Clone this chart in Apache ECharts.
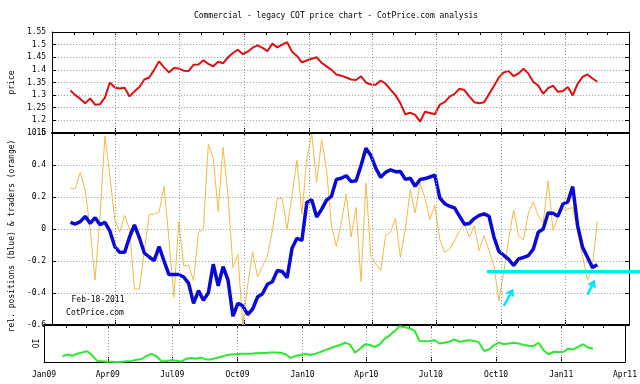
<!DOCTYPE html>
<html><head><meta charset="utf-8">
<script src="https://cdn.jsdelivr.net/npm/echarts@6/dist/echarts.min.js"></script>
<style>html,body{margin:0;padding:0;background:#fff}#c{width:640px;height:384px}</style>
</head><body><div id="c"></div>
<script>
// weekly COT report dates start here (one value per week)
const firstWeek = '2009-01-27';

const price = [1.318,1.300,1.285,1.268,1.287,1.262,1.264,1.290,1.350,1.330,
1.326,1.329,1.295,1.315,1.332,1.362,1.370,1.400,1.434,1.410,
1.390,1.407,1.405,1.397,1.396,1.420,1.421,1.438,1.424,1.414,
1.432,1.426,1.450,1.467,1.480,1.462,1.472,1.488,1.497,1.487,
1.474,1.504,1.489,1.500,1.510,1.472,1.455,1.430,1.437,1.444,
1.450,1.428,1.414,1.400,1.382,1.377,1.370,1.362,1.360,1.375,
1.350,1.342,1.341,1.358,1.345,1.322,1.300,1.268,1.224,1.230,
1.222,1.195,1.234,1.229,1.224,1.262,1.272,1.294,1.305,1.325,
1.320,1.295,1.272,1.268,1.272,1.304,1.336,1.370,1.390,1.395,
1.375,1.386,1.405,1.385,1.352,1.338,1.305,1.328,1.338,1.313,
1.316,1.332,1.299,1.345,1.372,1.382,1.366,1.353];

const positions = [0.042,0.031,0.046,0.079,0.035,0.071,0.027,0.042,-0.012,-0.110,
-0.146,-0.146,-0.050,0.025,-0.055,-0.150,-0.175,-0.198,-0.110,-0.200,
-0.285,-0.285,-0.284,-0.300,-0.340,-0.465,-0.385,-0.445,-0.400,-0.220,
-0.355,-0.235,-0.320,-0.545,-0.465,-0.480,-0.535,-0.500,-0.425,-0.405,
-0.345,-0.330,-0.260,-0.265,-0.305,-0.120,-0.058,-0.072,0.165,0.183,
0.075,0.123,0.180,0.204,0.310,0.317,0.333,0.296,0.302,0.395,
0.505,0.460,0.380,0.323,0.354,0.370,0.358,0.360,0.310,0.317,
0.267,0.310,0.315,0.325,0.337,0.195,0.158,0.142,0.132,0.080,
0.030,0.035,0.065,0.085,0.094,0.080,-0.050,-0.140,-0.165,-0.190,
-0.228,-0.187,-0.178,-0.166,-0.125,-0.020,0.000,0.100,0.098,0.080,
0.156,0.170,0.265,0.020,-0.115,-0.177,-0.240,-0.223];

const traders = [0.254,0.254,0.354,0.240,0.000,-0.320,0.080,0.580,0.330,0.060,
-0.020,0.085,0.000,-0.375,-0.375,-0.135,0.088,0.094,0.104,0.267,
-0.065,-0.427,0.046,-0.229,-0.229,-0.323,-0.020,0.000,0.530,0.440,
0.110,0.510,0.210,-0.240,-0.160,-0.600,-0.350,-0.142,-0.300,-0.233,
-0.170,-0.010,0.190,0.190,0.000,0.210,0.430,0.094,0.440,0.594,
0.290,0.560,0.375,0.020,-0.108,0.040,0.217,-0.050,0.135,-0.329,
0.288,-0.167,-0.219,-0.260,-0.042,-0.020,0.067,-0.177,0.000,0.246,
0.100,0.290,0.190,0.060,0.150,-0.065,-0.146,-0.125,-0.075,-0.010,
0.031,-0.052,0.020,-0.135,-0.042,-0.135,-0.230,-0.448,-0.270,-0.060,
0.120,-0.040,-0.070,0.100,0.170,0.080,0.040,0.300,-0.010,0.073,
0.125,0.125,0.135,-0.020,-0.170,-0.320,-0.230,0.050];

const openInterest = [15.5,20,17,22.5,26,29,18,3,2,1,
0.5,0,0.5,2,3,6,8,17,22,15,
2,3,4.5,3.5,1,9,11,9,12,6.5,
7,11,14,18,20,21,22,22,22.5,23.5,
24,24.5,25.5,26,25,21,11,16,19,22.5,
19,22.5,27,32,37,42,46,52,47,25,
36,48,46,41,48,63,72,84,97,94,
91,85,57,56,57,59,50,52,55,61,
55,57,59,57,53,30,34,45,53,48,
50,52,50,46,44,43,52,32,21,27,
27,27,36,34,41,48,39,36];

const quarterTicks = ['2009-01-01','2009-04-01','2009-07-01','2009-10-01','2010-01-01',
  '2010-04-01','2010-07-01','2010-10-01','2011-01-01','2011-04-01'];
const monthNames = ['Jan','Feb','Mar','Apr','May','Jun','Jul','Aug','Sep','Oct','Nov','Dec'];
const priceTicks = {min: 1.15, max: 1.55, interval: 0.05};
const relTicks = {min: -0.6, max: 0.6, interval: 0.2};

const DAY = 86400000;
const ts = s => Date.parse(s); // ISO date -> UTC ms
const quarterTs = quarterTicks.map(ts);
const monthTs = [];
for (let y = 2009; y <= 2011; y++) for (let m = 0; m < 12; m++) {
  if (y === 2011 && m > 3) break;
  monthTs.push(Date.UTC(y, m, 1));
}
const t0 = ts(firstWeek);
const dates = price.map((_, i) => t0 + i * 7 * DAY);
const pair = arr => arr.map((v, i) => [dates[i], v]);

const FONT = 'DejaVu Sans Mono';
const X_MIN = ts('2009-01-01'), X_MAX = ts('2011-04-01');
function fmtDate(v) { const d = new Date(v); return monthNames[d.getUTCMonth()] + String(d.getUTCFullYear()).slice(2); }

// vertical dotted grid at the quarter ticks, positioned by the x scale
const quarterGrid = {
  silent: true, symbol: ['none', 'none'], animation: false,
  label: {show: false}, emphasis: {disabled: true},
  lineStyle: {type: [1, 2], color: '#999', width: 1},
  data: quarterTs.slice(1, -1).map(v => ({xAxis: v}))
};

function xBottom(gi, showLabel, lw) {
  return {type: 'value', gridIndex: gi, min: X_MIN, max: X_MAX, position: 'bottom', scale: true,
    axisLine: {show: true, onZero: false, lineStyle: {color: '#000', width: lw}},
    axisTick: {show: true, inside: true, length: 5, customValues: quarterTs, lineStyle: {color: '#000'}},
    axisLabel: {show: showLabel, customValues: quarterTs, formatter: fmtDate, fontFamily: FONT, fontSize: 8, color: '#000', margin: 9},
    splitLine: {show: false}};
}
function xTop(gi, lw) {
  return {type: 'value', gridIndex: gi, min: X_MIN, max: X_MAX, position: 'top', scale: true,
    axisLine: {show: true, onZero: false, lineStyle: {color: '#000', width: lw}},
    axisTick: {show: true, inside: true, length: 3, customValues: monthTs, lineStyle: {color: '#000'}},
    axisLabel: {show: false}, splitLine: {show: false}};
}
function yLeft(gi, t, name, gap, pad, showSplit) {
  return {type: 'value', gridIndex: gi, min: t.min, max: t.max, interval: t.interval, position: 'left',
    name: name, nameLocation: 'middle', nameRotate: 90, nameGap: gap,
    nameTextStyle: {fontFamily: FONT, fontSize: 8, color: '#000', padding: pad},
    axisLine: {show: true, lineStyle: {color: '#000', width: 1}},
    axisTick: {show: true, inside: true, length: 4, lineStyle: {color: '#000'}},
    axisLabel: {show: true, fontFamily: FONT, fontSize: 8, color: '#000', margin: 6},
    splitLine: {show: showSplit, lineStyle: {type: [1, 2], color: '#999', width: 1}}};
}
function yRight(gi, t) {
  return {type: 'value', gridIndex: gi, min: t.min, max: t.max, interval: t.interval, position: 'right',
    axisLine: {show: true, lineStyle: {color: '#000', width: 1}},
    axisTick: {show: true, inside: true, length: 4, lineStyle: {color: '#000'}},
    axisLabel: {show: false}, splitLine: {show: false}};
}

const chart = echarts.init(document.getElementById('c'), null, {renderer: 'canvas'});
chart.setOption({
  animation: false,
  backgroundColor: '#fff',
  grid: [
    {left: 44, right: 11, top: 32, height: 101},
    {left: 44, right: 11, top: 133, height: 192},
    {left: 44, right: 11, top: 325, height: 37}
  ],
  xAxis: [xBottom(0, false, 2), xTop(0, 1), xBottom(1, false, 2), xTop(1, 2), xBottom(2, true, 1), xTop(2, 2)],
  yAxis: [
    yLeft(0, priceTicks, 'price', 30, 0, true), yRight(0, priceTicks),
    yLeft(1, relTicks, 'rel. positions (blue) & traders (orange)', 20, [0, 14, 0, 0], true), yRight(1, relTicks),
    {type: 'value', gridIndex: 2, min: 0, max: 100, position: 'left', name: 'OI', nameLocation: 'middle', nameRotate: 90, nameGap: 3,
      nameTextStyle: {fontFamily: FONT, fontSize: 8, color: '#000'},
      axisLine: {show: true, lineStyle: {color: '#000'}}, axisTick: {show: false}, axisLabel: {show: false}, splitLine: {show: false}},
    {type: 'value', gridIndex: 2, min: 0, max: 100, position: 'right',
      axisLine: {show: true, lineStyle: {color: '#000'}}, axisTick: {show: false}, axisLabel: {show: false}, splitLine: {show: false}}
  ],
  series: [
    {type: 'line', name: 'price', xAxisIndex: 0, yAxisIndex: 0, data: pair(price), showSymbol: false,
      lineStyle: {color: '#e01010', width: 2}, itemStyle: {color: '#e01010'}, markLine: quarterGrid, z: 3},
    {type: 'line', name: 'traders', xAxisIndex: 2, yAxisIndex: 2, data: pair(traders), showSymbol: false,
      lineStyle: {color: '#f5b847', width: 1}, itemStyle: {color: '#f5b847'}, markLine: quarterGrid, z: 3},
    {type: 'line', name: 'positions', xAxisIndex: 2, yAxisIndex: 2, data: pair(positions), showSymbol: false,
      lineStyle: {color: '#0a0ad8', width: 3.5}, itemStyle: {color: '#0a0ad8'}, z: 4},
    {type: 'line', name: 'OI', xAxisIndex: 4, yAxisIndex: 4, data: pair(openInterest), showSymbol: false,
      lineStyle: {color: '#2ee82e', width: 2}, itemStyle: {color: '#2ee82e'}, markLine: quarterGrid, z: 3}
  ]
});

// annotations placed through the chart's own scales
const px = (d, v) => chart.convertToPixel({seriesIndex: 2}, [ts(d), v]);
const h0 = px('2010-09-11', -0.267);
function arrow(d0, v0, d1, v1) {
  const a = px(d0, v0), b = px(d1, v1);
  const ang = Math.atan2(b[1] - a[1], b[0] - a[0]);
  const L = 6, s = 0.6;
  const l = [b[0] - L * Math.cos(ang - s), b[1] - L * Math.sin(ang - s)];
  const r = [b[0] - L * Math.cos(ang + s), b[1] - L * Math.sin(ang + s)];
  return [
    {type: 'line', z: 10, shape: {x1: a[0], y1: a[1], x2: b[0], y2: b[1]}, style: {stroke: '#00e8f0', lineWidth: 2.5}},
    {type: 'polyline', z: 10, shape: {points: [l, b, r]}, style: {stroke: '#00e8f0', lineWidth: 2.5, fill: null}}
  ];
}
chart.setOption({
  graphic: [
    {type: 'text', style: {text: 'Commercial - legacy COT price chart - CotPrice.com analysis', x: 336, y: 16,
      textAlign: 'center', textVerticalAlign: 'middle', font: '8px "DejaVu Sans Mono"', fill: '#000'}},
    {type: 'text', style: {text: 'Feb-18-2011', x: 98, y: 300, textAlign: 'center', textVerticalAlign: 'middle',
      font: '8px "DejaVu Sans Mono"', fill: '#000'}},
    {type: 'text', style: {text: 'CotPrice.com', x: 95, y: 313, textAlign: 'center', textVerticalAlign: 'middle',
      font: '8px "DejaVu Sans Mono"', fill: '#000'}},
    {type: 'line', z: 10, shape: {x1: h0[0], y1: h0[1], x2: 640, y2: h0[1]}, style: {stroke: '#00e8f0', lineWidth: 3.5}}
  ].concat(arrow('2010-10-05', -0.48, '2010-10-17', -0.385), arrow('2011-02-01', -0.41, '2011-02-10', -0.33))
});
</script></body></html>
